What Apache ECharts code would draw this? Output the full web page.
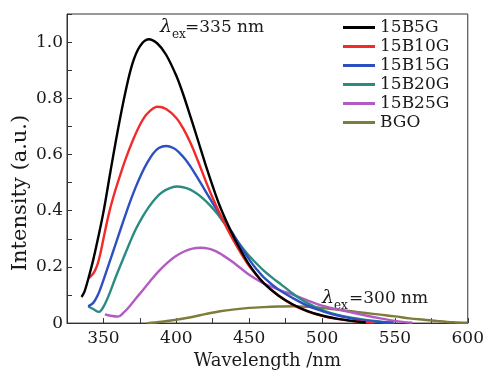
<!DOCTYPE html>
<html>
<head>
<meta charset="utf-8">
<script src="https://cdn.jsdelivr.net/npm/echarts@6/dist/echarts.min.js"></script>
<style>
  html, body { margin: 0; padding: 0; background: #fff; }
  #chart { width: 487px; height: 375px; }
</style>
</head>
<body>
<div id="chart"></div>
<script>
// series names and colours
const names = ["15B5G", "15B10G", "15B15G", "15B20G", "15B25G", "BGO"];
const colors = ["#000000", "#f32a2a", "#2c4fc2", "#2b8a82", "#b25cc2", "#7f7b3b"];

// [wavelength nm, intensity a.u.]
const s5 = [[335,0.093],[337,0.112],[340,0.165],[343,0.225],[346,0.295],[350,0.395],[355,0.545],
  [360,0.69],[365,0.82],[370,0.925],[375,0.985],[381,1.01],[387,0.995],[393,0.955],[400,0.88],[405,0.81],
  [410,0.73],[415,0.648],[420,0.565],[425,0.487],[430,0.415],[435,0.355],[440,0.30],[445,0.252],[450,0.208],
  [455,0.172],[460,0.142],[470,0.098],[480,0.066],[490,0.043],[500,0.027],[510,0.016],[520,0.008],[530,0.002]];
const s10 = [[340,0.16],[342,0.17],[344,0.185],[346,0.21],[348,0.25],[350,0.30],[354,0.395],[358,0.47],
  [362,0.535],[366,0.595],[370,0.648],[375,0.705],[380,0.745],[387,0.77],[393,0.762],[400,0.73],[405,0.69],
  [410,0.638],[415,0.575],[420,0.508],[425,0.445],[430,0.388],[435,0.335],[440,0.287],[445,0.243],[450,0.203],
  [460,0.142],[470,0.098],[480,0.065],[490,0.042],[500,0.026],[510,0.015],[520,0.008],[535,0.002]];
const s15 = [[339.5,0.06],[343,0.072],[346,0.098],[349,0.138],[352,0.183],[356,0.245],[360,0.307],
  [364,0.368],[368,0.428],[372,0.482],[376,0.53],[380,0.57],[384,0.603],[388,0.623],[393,0.63],[398,0.623],
  [402,0.607],[406,0.584],[410,0.555],[415,0.513],[420,0.47],[426,0.418],[432,0.37],[438,0.325],[444,0.275],
  [450,0.227],[455,0.192],[460,0.163],[470,0.12],[480,0.089],[490,0.062],[500,0.043],[510,0.028],[520,0.017],
  [530,0.009],[540,0.004],[549,0.001]];
const s20 = [[339.5,0.06],[343,0.05],[347,0.04],[350,0.058],[354,0.103],[358,0.158],[363,0.222],[368,0.285],
  [372,0.332],[377,0.38],[381,0.412],[386,0.445],[390,0.465],[396,0.481],[401,0.486],[407,0.48],[413,0.465],
  [418,0.445],[423,0.42],[428,0.39],[433,0.355],[438,0.32],[444,0.277],[449,0.245],[455,0.212],[460,0.187],
  [466,0.161],[472,0.137],[478,0.113],[484,0.09],[490,0.071],[496,0.056],[502,0.043],[510,0.03],[520,0.019],
  [530,0.011],[540,0.005],[549,0.001]];
const s25 = [[351,0.031],[355,0.026],[360,0.023],[364,0.038],[368,0.06],[372,0.086],[377,0.117],[382,0.149],
  [388,0.185],[394,0.215],[399,0.236],[405,0.254],[411,0.265],[417,0.268],[422,0.265],[427,0.256],[432,0.241],
  [438,0.22],[444,0.196],[449,0.176],[455,0.156],[460,0.141],[466,0.128],[472,0.116],[478,0.105],[483,0.095],
  [490,0.081],[495,0.071],[500,0.062],[506,0.054],[515,0.044],[522,0.036],[530,0.027],[540,0.017],[550,0.008],
  [562,0.001]];
const bgo = [[380,0],[390,0.005],[400,0.012],[410,0.021],[420,0.032],[430,0.042],[440,0.049],[450,0.054],
  [460,0.057],[470,0.059],[480,0.06],[490,0.058],[500,0.054],[510,0.048],[520,0.042],[530,0.036],[540,0.03],
  [550,0.024],[560,0.017],[570,0.012],[580,0.007],[590,0.003],[600,0.001]];
const allData = [s5, s10, s15, s20, s25, bgo];

const font = "DejaVu Serif";
const ink = "#1a1a1a";

const chart = echarts.init(document.getElementById("chart"));
chart.setOption({
  animation: false,
  color: colors,
  grid: { left: 67, right: 16, top: 14, bottom: 41, show: true, borderColor: "#333", borderWidth: 1 },
  legend: {
    data: names,
    orient: "vertical",
    left: 338,
    top: 14,
    icon: "rect",
    itemWidth: 32,
    itemHeight: 3,
    itemGap: 2,
    textStyle: { fontFamily: font, fontSize: 17, lineHeight: 17, color: ink }
  },
  xAxis: {
    type: "value",
    min: 325,
    max: 600,
    interval: 25,
    name: "Wavelength /nm",
    nameLocation: "middle",
    nameGap: 23,
    nameTextStyle: { fontFamily: font, fontSize: 18, color: ink },
    axisLine: { lineStyle: { color: "#333" } },
    axisTick: { inside: true, length: 5, lineStyle: { color: "#333" } },
    axisLabel: {
      fontFamily: font, fontSize: 17, color: ink, margin: 7,
      formatter: v => (v % 50 === 0 ? String(v) : "")
    },
    splitLine: { show: false }
  },
  yAxis: {
    type: "value",
    min: 0,
    max: 1.1,
    interval: 0.1,
    axisLine: { show: true, lineStyle: { color: "#333" } },
    axisTick: { show: true, inside: true, length: 5, lineStyle: { color: "#333" } },
    axisLabel: {
      fontFamily: font, fontSize: 17, color: ink, margin: 4,
      formatter: v => {
        const k = Math.round(v * 10);
        if (k % 2 || k > 10) return "";
        return k === 0 ? "0" : (k / 10).toFixed(1);
      }
    },
    splitLine: { show: false }
  },
  graphic: [
    { type: "text", x: 21, y: 193, rotation: Math.PI / 2,
      style: { text: "Intensity (a.u.)", fontFamily: font, fontSize: 21, fill: ink, align: "center", verticalAlign: "middle" } },
    { type: "text", x: 160, y: 27,
      style: { text: "λ", fontFamily: font, fontStyle: "italic", fontSize: 19, fill: ink, verticalAlign: "middle" } },
    { type: "text", x: 172, y: 35,
      style: { text: "ex", fontFamily: font, fontSize: 12, fill: ink, verticalAlign: "middle" } },
    { type: "text", x: 185, y: 28,
      style: { text: "=335 nm", fontFamily: font, fontSize: 17, fill: ink, verticalAlign: "middle" } },
    { type: "text", x: 322, y: 298,
      style: { text: "λ", fontFamily: font, fontStyle: "italic", fontSize: 19, fill: ink, verticalAlign: "middle" } },
    { type: "text", x: 334, y: 306,
      style: { text: "ex", fontFamily: font, fontSize: 12, fill: ink, verticalAlign: "middle" } },
    { type: "text", x: 349, y: 299,
      style: { text: "=300 nm", fontFamily: font, fontSize: 17, fill: ink, verticalAlign: "middle" } }
  ],
  series: names.map((n, i) => ({
    name: n,
    type: "line",
    data: allData[i],
    showSymbol: false,
    smooth: 0.35,
    lineStyle: { width: 2.4, color: colors[i] },
    z: 10 - i
  }))
});
</script>
</body>
</html>
